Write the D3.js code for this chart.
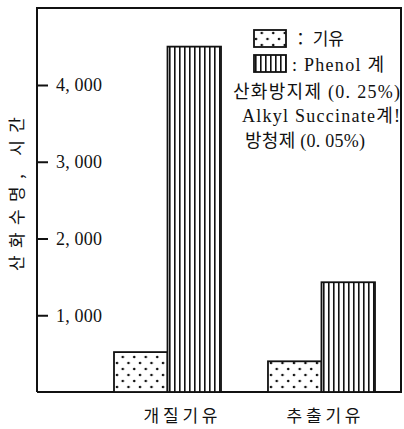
<!DOCTYPE html>
<html><head><meta charset="utf-8">
<script src="https://cdn.jsdelivr.net/npm/d3@7"></script>
<style>body{margin:0;background:#fff}svg{display:block}</style>
</head><body>
<svg id="c" width="404" height="429"></svg>
<script>
const categories = ["개질기유", "추출기유"];
const seriesNames = ["기유", "Phenol계"];
const baseOil = [520, 400];
const phenol = [4500, 1430];
const yTicks = [1000, 2000, 3000, 4000];
const yTickLabels = ["1, 000", "2, 000", "3, 000", "4, 000"];
const legendLines = ["산화방지제 (0. 25%)", "Alkyl Succinate계!", "방청제 (0. 05%)"];
const yTitle = "산화수명,  시간";

const svg = d3.select("#c");
const defs = svg.append("defs");
const dots = defs.append("pattern").attr("id","dots").attr("patternUnits","userSpaceOnUse")
  .attr("width",11.5).attr("height",12);
dots.append("rect").attr("width",11.5).attr("height",12).attr("fill","#fff");
[[3,3],[8.75,9]].forEach(([x,y])=>dots.append("circle").attr("cx",x).attr("cy",y).attr("r",1.3).attr("fill","#111"));
const stripes = defs.append("pattern").attr("id","stripes").attr("patternUnits","userSpaceOnUse")
  .attr("width",5).attr("height",10);
stripes.append("rect").attr("width",5).attr("height",10).attr("fill","#fff");
stripes.append("rect").attr("x",0).attr("width",1.6).attr("height",10).attr("fill","#111");

const frameL = 37, frameR = 401, frameT = 8;
const y = d3.scaleLinear().domain([0, 4000]).range([392, 85]);
const x0 = d3.scaleBand().domain(categories).range([114, 375]).paddingInner(0.305).paddingOuter(0);
const x1 = d3.scaleBand().domain(seriesNames).range([0, x0.bandwidth()]);

// frame
svg.append("path").attr("d", `M${frameL},${y(0)}V${frameT}H${frameR}V${y(0)}`)
  .attr("fill","none").attr("stroke","#111").attr("stroke-width",2);
svg.append("line").attr("x1",frameL).attr("x2",frameR+1).attr("y1",y(0)).attr("y2",y(0))
  .attr("stroke","#111").attr("stroke-width",2);

// y axis ticks
const ax = d3.axisRight(y).tickValues(yTicks).tickSize(11).tickPadding(8)
  .tickFormat((d,i)=>yTickLabels[i]);
const g = svg.append("g").attr("transform",`translate(${frameL},0)`).call(ax);
g.select(".domain").remove();
g.selectAll(".tick line").attr("stroke","#111").attr("stroke-width",2);
g.selectAll(".tick text").attr("font-family","Liberation Serif, serif").attr("font-size",18)
  .attr("fill","#111").attr("textLength",46).attr("lengthAdjust","spacing");

// bars
const data = categories.map((c,i)=>({c, vals:[baseOil[i], phenol[i]]}));
const grp = svg.append("g").selectAll("g").data(data).join("g")
  .attr("transform", d=>`translate(${x0(d.c)},0)`);
grp.selectAll("rect").data(d=>d.vals.map((v,j)=>({v, s:seriesNames[j]}))).join("rect")
  .attr("x", d=>x1(d.s)).attr("width", x1.bandwidth())
  .attr("y", d=>y(d.v)).attr("height", d=>y(0)-y(d.v))
  .attr("fill", (d,j)=> j===0 ? "url(#dots)" : "url(#stripes)")
  .attr("stroke","#111").attr("stroke-width",1.8);

// category labels
svg.append("g").selectAll("text").data(categories).join("text")
  .attr("x", d=>x0(d)+x0.bandwidth()/2+ (d===categories[0]?13:2)).attr("y", 422)
  .attr("text-anchor","middle").attr("font-family","Noto Sans CJK KR").attr("font-size",17)
  .attr("textLength",74).attr("lengthAdjust","spacing").attr("fill","#111").text(d=>d);

// y title
svg.append("text").attr("transform","translate(23,194) rotate(-90)")
  .attr("text-anchor","middle").attr("font-family","Noto Sans CJK KR").attr("font-size",17)
  .attr("textLength",154).attr("lengthAdjust","spacing")
  .attr("fill","#111").text(yTitle);

// legend
const lg = svg.append("g");
const lx = 254;
lg.append("rect").attr("x",lx).attr("y",30).attr("width",32).attr("height",17)
  .attr("fill","url(#dots)").attr("stroke","#111").attr("stroke-width",1.8);
lg.append("rect").attr("x",lx).attr("y",55).attr("width",32).attr("height",17)
  .attr("fill","url(#stripes)").attr("stroke","#111").attr("stroke-width",1.8);
lg.append("text").attr("x",292).attr("y",45).attr("font-family","Noto Sans CJK KR").attr("font-size",17)
  .attr("textLength",52).attr("lengthAdjust","spacing")
  .attr("fill","#111").text("： " + seriesNames[0]);
lg.append("text").attr("x",292).attr("y",71).attr("font-family","Liberation Serif, Noto Sans CJK KR").attr("font-size",18)
  .attr("textLength",92).attr("lengthAdjust","spacing")
  .attr("fill","#111").text(": Phenol 계");
const lpos = [[233,98,167],[242,122,158],[245,147,120]];
legendLines.forEach((t,i)=>lg.append("text").attr("x",lpos[i][0]).attr("y",lpos[i][1])
  .attr("font-family","Liberation Serif, Noto Sans CJK KR").attr("font-size",18)
  .attr("textLength",lpos[i][2]).attr("lengthAdjust","spacing").attr("fill","#111").text(t));
</script>
</body></html>
